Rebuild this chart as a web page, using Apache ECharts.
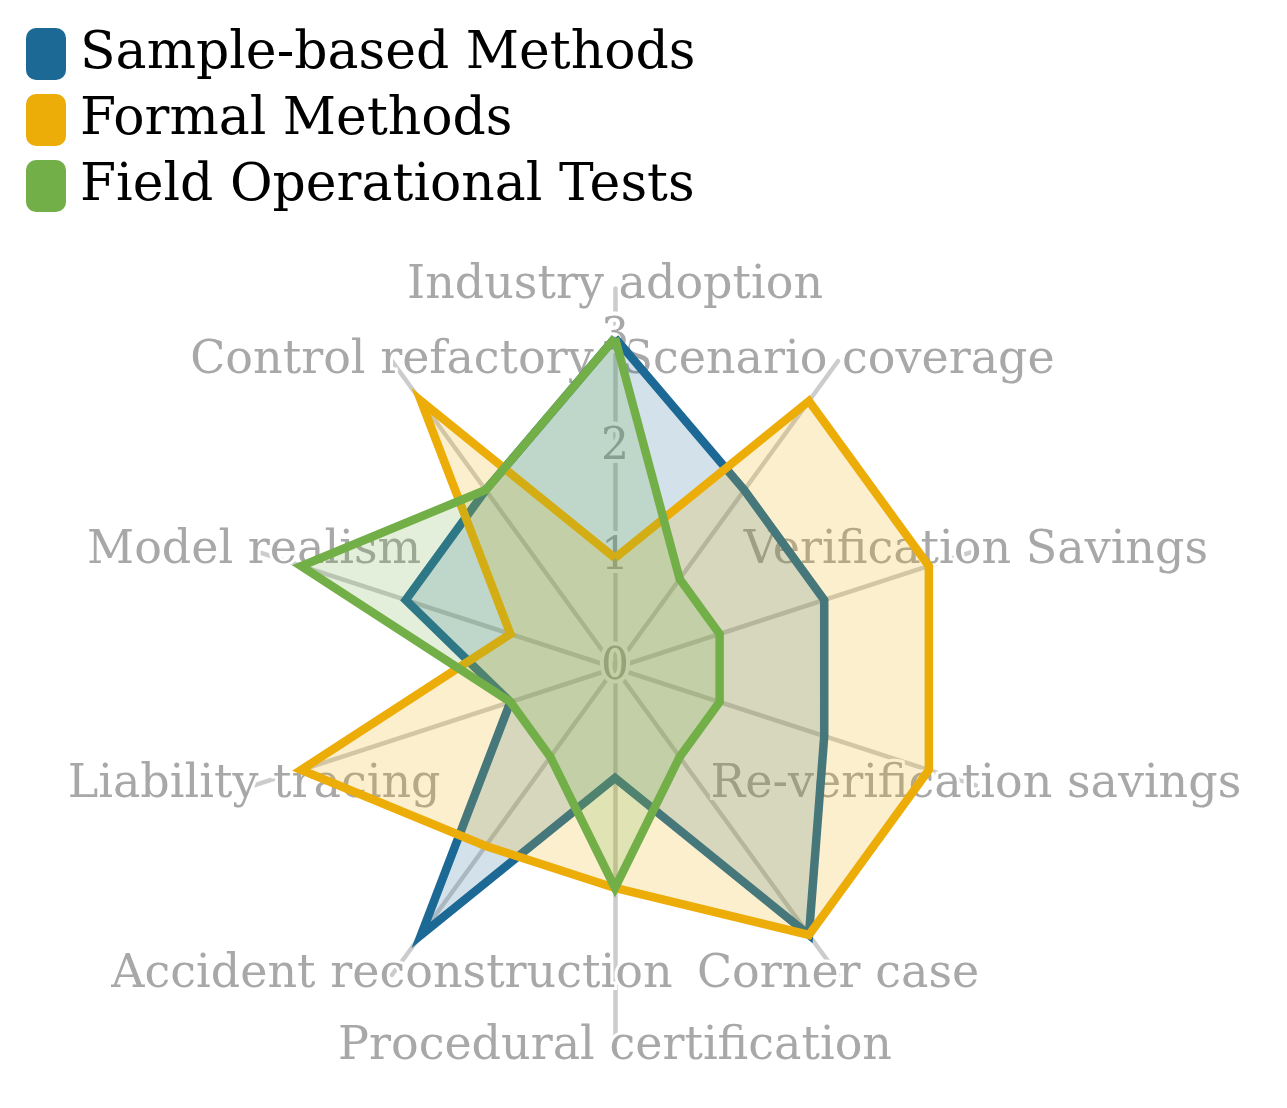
<!DOCTYPE html>
<html>
<head>
<meta charset="utf-8">
<script src="https://cdn.jsdelivr.net/npm/echarts@6/dist/echarts.min.js"></script>
<style>
html,body{margin:0;padding:0;background:#fff;}
#chart{width:1287px;height:1108px;}
</style>
</head>
<body>
<div id="chart"></div>
<script>
// Categories listed clockwise starting from the top
const categories = [
  'Industry adoption',
  'Scenario coverage',
  'Verification Savings',
  'Re-verification savings',
  'Corner case',
  'Procedural certification',
  'Accident reconstruction',
  'Liability tracing',
  'Model realism',
  'Control refactory'
];
const seriesNames = ['Sample-based Methods', 'Formal Methods', 'Field Operational Tests'];
const sampleBased = [3, 2, 2, 2, 3, 1, 3, 1, 2, 2];
const formalMethods = [1, 3, 3, 3, 3, 2, 2, 3, 1, 3];
const fieldTests = [3, 1, 1, 1, 1, 2, 1, 1, 3, 2];
const tickLabels = ['0', '1', '2', '3'];

const colors = ['#1D6996', '#EDAD08', '#73AF48'];
const FONT = 'DejaVu Serif';
const AXIS_MAX = 3.45;     // axis spokes run out to the label ring
const SPLITS = 69;         // 0.05 step; only integer ticks get a label
const CENTER = [615, 668];
const RADIUS = 379.5;

// ECharts lays radar indicators counter-clockwise: reorder to get clockwise
const order = [0].concat(categories.map((_, i) => i).slice(1).reverse());
const reorder = arr => order.map(i => arr[i]);

function makeIndicators(withTicks) {
  return order.map((i, k) => {
    const ind = { name: categories[i], min: 0, max: AXIS_MAX };
    if (withTicks && k === 0) {
      ind.axisLabel = {
        show: true,
        margin: 0,
        align: 'center',
        verticalAlign: 'middle',
        color: '#a8a8a8',
        fontFamily: FONT,
        fontSize: 44,
        textBorderColor: '#fff',
        textBorderWidth: 8,
        formatter: function (v) {
          const r = Math.round(v);
          if (Math.abs(v - r) < 1e-6 && tickLabels.indexOf(String(r)) >= 0) return String(r);
          return '';
        }
      };
    }
    return ind;
  });
}

const allData = [sampleBased, formalMethods, fieldTests];

const chart = echarts.init(document.getElementById('chart'), null, { renderer: 'canvas' });
chart.setOption({
  animation: false,
  color: colors,
  legend: {
    orient: 'vertical',
    left: 21,
    top: 23,
    itemWidth: 40,
    itemHeight: 52,
    itemGap: 14,
    icon: 'roundRect',
    selectedMode: false,
    data: seriesNames,
    textStyle: {
      fontFamily: FONT,
      fontSize: 52,
      lineHeight: 52,
      color: '#000',
      padding: [0, 0, 0, 9]
    }
  },
  radar: [
    {
      // spokes only
      center: CENTER,
      radius: RADIUS,
      shape: 'polygon',
      splitNumber: SPLITS,
      indicator: makeIndicators(false),
      axisName: { show: false },
      axisLine: { show: true, lineStyle: { color: '#cccccc', width: 4.5 } },
      axisTick: { show: false },
      axisLabel: { show: false },
      splitLine: { show: false },
      splitArea: { show: false }
    },
    {
      // names and tick labels, drawn over every spoke
      center: CENTER,
      radius: RADIUS,
      shape: 'polygon',
      splitNumber: SPLITS,
      indicator: makeIndicators(true),
      nameGap: 0,
      axisName: {
        color: '#a8a8a8',
        fontFamily: FONT,
        fontSize: 46,
        align: 'center',
        verticalAlign: 'middle',
        textBorderColor: '#fff',
        textBorderWidth: 6
      },
      axisLine: { show: false },
      axisTick: { show: false },
      axisLabel: { show: false },
      splitLine: { show: false },
      splitArea: { show: false }
    }
  ],
  series: seriesNames.map((name, s) => ({
    type: 'radar',
    name: name,
    radarIndex: 0,
    symbol: 'none',
    z: 2 + s,
    lineStyle: { color: colors[s], width: 8.5, join: 'miter', miterLimit: 10, opacity: 1 },
    areaStyle: { color: colors[s], opacity: 0.2 },
    itemStyle: { color: colors[s] },
    data: [{ name: name, value: reorder(allData[s]) }]
  }))
});
</script>
</body>
</html>
